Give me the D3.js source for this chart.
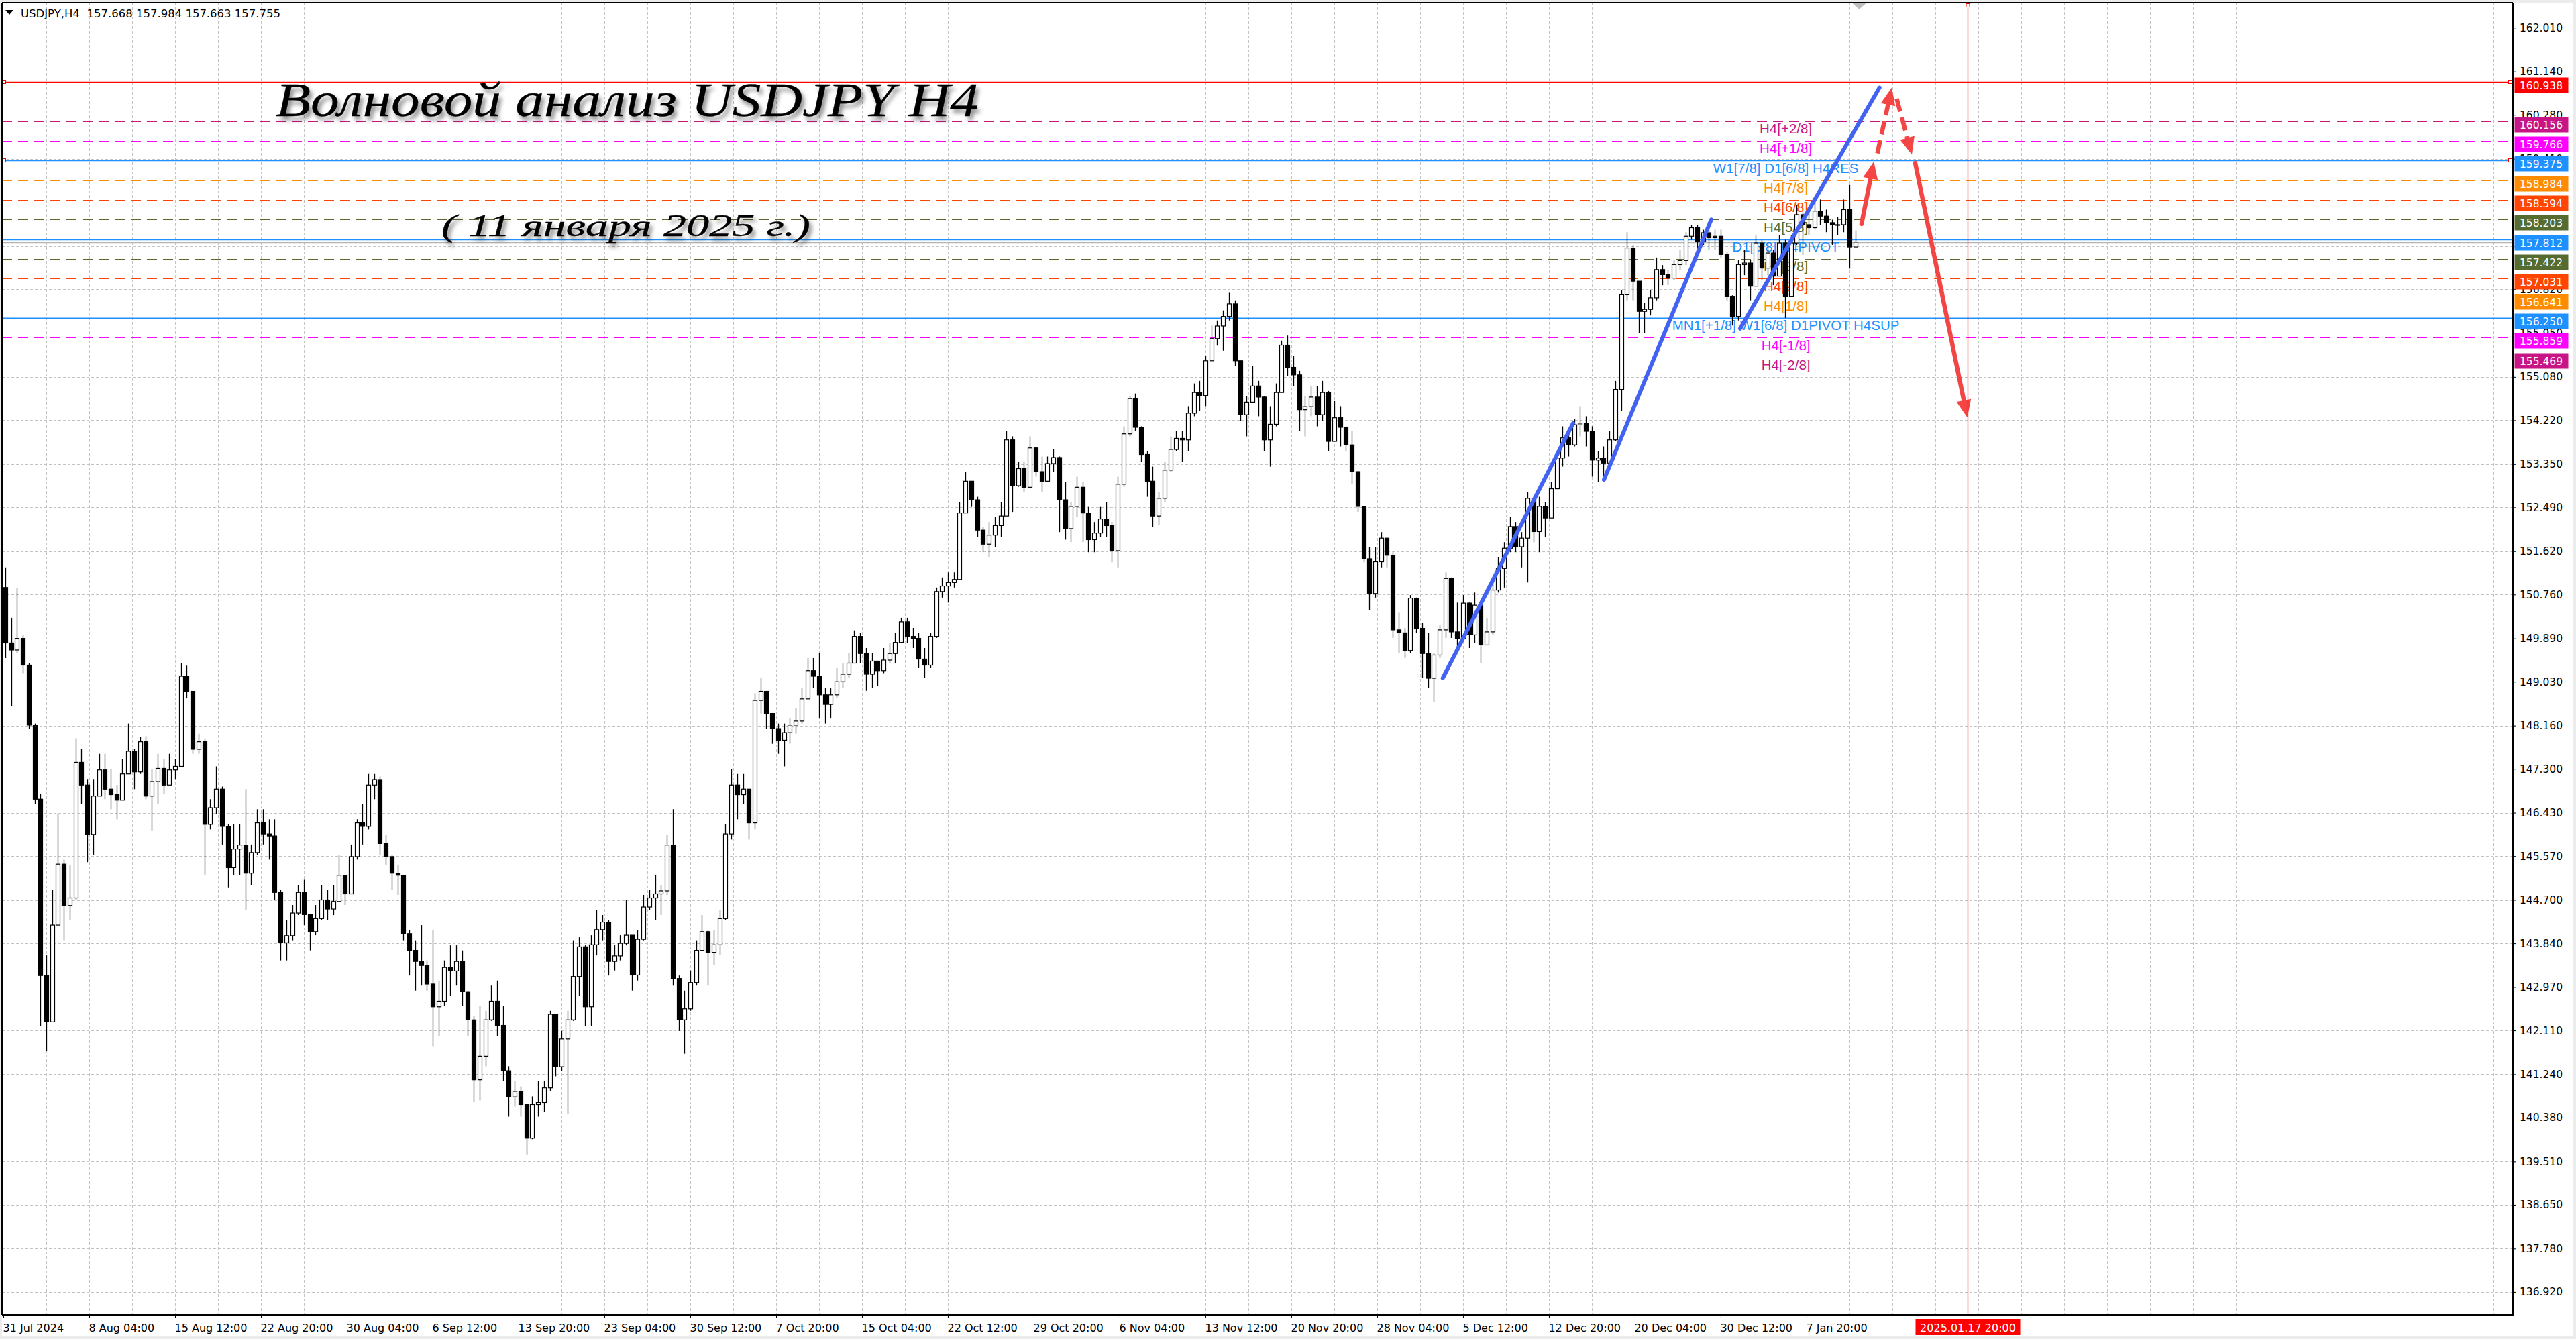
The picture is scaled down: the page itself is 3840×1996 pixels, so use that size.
<!DOCTYPE html>
<html><head><meta charset="utf-8">
<script src="https://cdn.jsdelivr.net/npm/d3@7"></script>
<style>html,body{margin:0;padding:0;background:#ececec;}svg{display:block;}</style>
</head><body><svg id="c" width="3840" height="1996"></svg>
<script>
// ---------- DATA (3 H4 bars per candle) ----------
const barsPerCandle = 3;
const firstOpen = 150.90;
const closes = [
149.80,149.66,149.89,149.36,148.17,146.70,143.20,142.28,144.20,145.41,
144.59,144.74,147.43,146.98,146.00,146.76,147.28,146.90,146.79,146.68,
147.20,147.65,147.24,147.84,146.76,147.05,147.31,146.98,147.28,147.35,
149.14,148.84,147.69,147.84,146.20,146.53,146.90,146.16,145.34,145.71,
145.79,145.23,145.64,146.23,146.01,145.97,144.85,143.85,143.99,144.44,
144.85,144.41,144.07,144.33,144.70,144.52,144.67,145.19,144.82,145.56,
146.23,146.16,146.98,147.09,145.82,145.56,145.23,145.19,144.03,143.70,
143.48,143.40,143.03,142.58,142.69,143.36,143.29,143.48,142.88,142.32,
141.13,141.60,142.32,142.69,142.21,141.31,140.79,140.90,140.64,139.97,
140.64,140.68,140.97,142.43,141.39,141.94,142.32,143.18,143.77,142.58,
143.81,144.11,144.26,143.48,143.59,143.84,144.00,143.21,143.92,144.56,
144.74,144.82,144.88,145.79,143.14,142.32,142.54,143.06,143.70,144.07,
143.66,143.81,144.33,146.01,146.98,146.79,146.90,146.23,148.66,148.84,
148.40,148.10,147.87,148.02,148.17,148.25,148.69,149.25,149.14,148.77,
148.58,148.77,149.03,149.18,149.40,149.93,149.59,149.18,149.44,149.25,
149.46,149.59,149.81,150.22,149.93,149.89,149.48,149.36,149.93,150.82,
150.93,151.00,151.06,152.38,153.01,152.64,152.04,151.76,151.94,152.13,
152.32,153.83,152.92,153.26,152.89,153.67,153.20,153.01,153.36,153.48,
152.64,152.07,152.51,152.89,152.38,151.85,151.98,152.26,152.13,151.63,
152.95,153.95,154.65,154.08,153.54,153.01,152.32,152.67,153.23,153.64,
153.86,153.83,154.36,154.77,154.71,155.40,155.84,156.09,156.28,156.53,
155.40,154.33,154.58,154.90,154.68,153.83,154.14,154.77,155.71,155.27,
155.12,154.43,154.49,154.68,154.33,154.77,153.80,154.27,154.08,153.73,
153.20,152.51,151.47,150.78,151.41,151.88,151.54,150.06,150.00,149.65,
150.69,150.09,149.59,149.10,149.56,150.06,151.08,150.02,149.89,150.59,
149.96,150.55,149.76,150.02,150.85,151.28,151.68,152.11,151.71,151.88,
152.67,152.01,152.51,152.28,152.86,153.47,153.87,153.73,154.13,154.16,
154.00,153.43,153.47,153.37,153.83,154.83,156.71,157.64,156.98,156.38,
156.42,156.65,157.21,157.11,157.04,157.31,157.39,157.87,158.04,157.77,
157.94,157.84,157.87,157.51,156.68,156.28,157.31,157.34,156.88,157.74,
157.24,157.54,157.08,157.74,156.68,157.74,158.30,158.10,158.04,158.37,
158.27,158.14,158.10,158.10,158.40,157.66,157.755];
const highs = [
151.30,150.30,150.90,149.95,149.40,148.20,146.80,143.60,144.90,146.40,
145.50,145.40,147.91,147.70,147.10,147.10,147.60,147.60,147.30,146.98,
147.50,148.20,147.70,147.93,147.95,147.30,147.60,147.50,147.60,147.50,
149.40,149.35,148.70,148.00,147.90,146.70,147.35,146.95,146.20,146.20,
146.20,146.90,145.80,146.50,146.50,146.30,146.30,144.90,144.30,144.60,
145.00,145.10,144.40,144.60,145.00,144.90,145.00,145.60,145.10,145.80,
146.30,146.60,147.20,147.20,147.15,146.00,145.60,145.40,145.20,144.10,
143.90,144.20,143.50,144.10,143.10,143.50,143.80,143.80,143.70,142.90,
142.40,142.60,142.50,143.00,143.10,142.60,141.40,141.10,141.00,140.60,
140.80,141.10,141.10,142.50,142.40,142.10,142.50,143.90,143.96,143.80,
144.00,144.50,144.40,144.30,143.80,144.00,144.70,144.00,144.10,144.80,
144.90,145.20,145.00,146.00,146.50,143.20,142.90,143.30,143.90,144.40,
144.10,144.10,144.50,146.20,147.30,147.20,147.20,146.90,148.80,149.10,
148.70,148.30,148.20,148.20,148.30,148.50,148.90,149.50,149.50,149.60,
148.90,148.90,149.30,149.40,149.60,150.05,150.00,149.70,149.60,149.40,
149.70,149.80,150.00,150.30,150.30,150.10,150.00,149.70,150.00,150.90,
151.10,151.20,151.20,152.60,153.20,153.00,152.70,152.10,152.20,152.30,
152.60,154.00,153.90,153.40,153.40,153.90,153.70,153.50,153.50,153.65,
153.50,153.00,152.60,153.10,153.00,152.50,152.20,152.50,152.60,152.20,
153.10,154.10,154.70,154.75,154.10,153.60,153.30,152.80,153.40,153.90,
154.00,154.00,154.50,154.95,155.00,155.50,156.10,156.20,156.40,156.75,
156.60,155.40,154.70,155.30,155.00,154.70,154.50,154.95,155.80,155.90,
155.50,155.20,154.70,154.90,154.90,155.00,154.80,154.60,154.50,154.10,
154.00,153.20,152.50,151.70,151.70,152.00,151.80,151.60,150.40,150.10,
150.75,150.70,150.20,150.00,149.60,150.15,151.20,151.10,150.60,150.75,
150.60,150.80,150.60,150.30,151.00,151.50,151.80,152.30,152.20,152.00,
152.80,152.70,152.70,152.60,153.00,153.60,154.10,154.00,154.25,154.50,
154.30,154.10,153.60,153.70,154.00,155.00,156.80,157.95,157.70,156.85,
156.55,156.80,157.45,157.30,157.20,157.40,157.60,157.95,158.10,158.10,
158.00,158.00,158.00,158.00,157.55,156.70,157.40,157.60,157.40,157.90,
157.80,157.75,157.60,157.90,157.80,157.90,158.50,158.35,158.40,158.55,
158.60,158.40,158.20,158.25,158.60,158.89,157.984];
const lows = [
149.50,148.55,149.60,149.20,148.10,146.60,142.20,141.70,142.30,144.70,
143.90,144.30,144.70,146.60,145.45,145.60,146.80,146.70,146.50,146.30,
146.70,147.20,146.90,147.20,146.70,146.08,146.60,146.80,147.00,147.10,
147.40,148.70,147.60,147.60,145.20,146.10,146.40,145.80,144.95,145.20,
145.20,144.50,145.00,145.60,145.80,145.50,144.70,143.50,143.50,143.90,
144.40,144.20,143.70,144.00,144.30,144.30,144.40,144.70,144.60,144.90,
145.50,145.80,146.10,146.70,145.60,145.40,144.90,144.80,143.90,143.20,
142.90,143.00,142.90,141.80,142.00,142.60,142.80,143.00,142.60,142.00,
140.70,140.72,141.40,142.30,142.00,141.10,140.40,140.60,140.40,139.65,
139.95,140.40,140.50,140.90,141.20,141.30,140.45,142.30,142.80,142.20,
142.20,143.60,143.90,143.20,143.30,143.50,143.80,142.90,143.10,143.90,
144.50,144.30,144.40,144.80,143.00,142.10,141.65,142.50,143.00,143.70,
143.00,143.40,143.60,144.30,145.90,146.30,146.60,145.90,146.10,148.40,
148.10,147.80,147.60,147.35,147.80,148.00,148.20,148.70,148.90,148.30,
148.20,148.30,148.70,148.90,149.10,149.40,149.40,148.85,148.90,148.95,
149.20,149.40,149.40,149.80,149.80,149.70,149.30,149.10,149.30,149.90,
150.70,150.60,150.90,151.10,152.40,152.50,151.90,151.60,151.50,151.70,
151.90,152.70,152.40,152.90,152.80,153.30,153.10,152.80,153.00,153.20,
152.00,151.85,151.80,152.30,151.80,151.60,151.60,151.90,151.90,151.40,
151.30,152.90,153.90,154.00,153.40,152.70,152.10,152.15,152.60,153.20,
153.60,153.40,153.60,154.30,154.40,154.50,155.40,155.70,155.60,156.20,
155.30,154.20,153.90,154.60,154.30,153.60,153.30,154.10,154.80,155.10,
154.90,154.00,153.90,154.30,154.10,154.20,153.60,153.90,153.70,153.60,
152.95,152.40,151.40,150.45,150.70,151.30,151.30,149.90,149.60,149.50,
149.60,150.00,149.10,148.90,148.63,149.50,149.90,149.90,149.60,149.90,
149.70,149.80,149.40,149.80,149.95,150.80,150.90,151.60,151.60,151.30,
151.00,151.80,151.60,151.90,152.30,152.90,153.30,153.50,153.70,153.90,
153.70,153.10,153.00,153.10,153.50,153.80,154.40,156.60,156.60,155.95,
155.95,156.30,156.60,156.90,156.90,157.00,157.20,157.30,157.80,157.60,
157.70,157.60,157.60,157.45,156.60,156.10,156.20,157.10,156.60,157.10,
157.00,157.10,156.90,157.30,156.25,156.90,157.70,157.50,157.90,158.00,
158.10,157.95,157.70,157.90,157.95,157.23,157.663];

const yTickValues = [162.010,161.140,160.280,159.410,158.540,157.680,156.820,155.950,155.080,154.220,153.350,152.490,151.620,150.760,149.890,149.030,148.160,147.300,146.430,145.570,144.700,143.840,142.970,142.110,141.240,140.380,139.510,138.650,137.780,136.920];
const xTickBars = [0,44,88,132,176,220,264,308,352,396,440,484,528,572,616,660,704,748,792,836,880,924];
const xTickLabels = ["31 Jul 2024","8 Aug 04:00","15 Aug 12:00","22 Aug 20:00","30 Aug 04:00","6 Sep 12:00","13 Sep 20:00","23 Sep 04:00","30 Sep 12:00","7 Oct 20:00","15 Oct 04:00","22 Oct 12:00","29 Oct 20:00","6 Nov 04:00","13 Nov 12:00","20 Nov 20:00","28 Nov 04:00","5 Dec 12:00","12 Dec 20:00","20 Dec 04:00","30 Dec 12:00","7 Jan 20:00"];
const gridBarStep = 22;

const levels = [160.938,160.156,159.766,159.375,158.984,158.594,158.203,157.812,157.422,157.031,156.641,156.250,155.859,155.469];
const levelColors = ["#FF0000","#C71585","#FF00FF","#1E90FF","#FF8C00","#FF4500","#556B2F","#1E90FF","#556B2F","#FF4500","#FF8C00","#1E90FF","#FF00FF","#C71585"];
const levelDashed = [false,true,true,false,true,true,true,false,true,true,true,false,true,true];
const levelWidths = [1.3,1.2,1.2,1.3,1.2,1.2,1.2,1.3,1.2,1.2,1.2,2.2,1.2,1.2];
const levelTexts = ["","H4[+2/8]","H4[+1/8]","W1[7/8] D1[6/8] H4RES","H4[7/8]","H4[6/8]","H4[5/8]","D1[5/8] H4PIVOT","H4[3/8]","H4[2/8]","H4[1/8]","MN1[+1/8] W1[6/8] D1PIVOT H4SUP","H4[-1/8]","H4[-2/8]"];
const levelTextBar = 913.4;
const markedLevels = [160.938,159.375];
const bidPrice = 157.755;
const headerText = "USDJPY,H4  157.668 157.984 157.663 157.755";
const titleText = "Волновой анализ USDJPY H4";
const subtitleText = "( 11 января 2025 г.)";

// blue trend lines: [bar1, price1, bar2, price2]
const trendLines = [[737.6,149.103,804.4,154.161],[820.2,153.04,875.2,158.202],[890.0,156.04,961.4,160.821]];
// red forecast arrows
const arrows = [
  {b1:952.2,p1:158.115,b2:958.5,p2:159.355,dashed:false},
  {b1:960.3,p1:159.517,b2:967.7,p2:160.821,dashed:true},
  {b1:970.2,p1:160.603,b2:978.0,p2:159.490,dashed:true},
  {b1:979.7,p1:159.327,b2:1006.4,p2:154.275,dashed:false}
];
const futureBar = 1006.5;
const futureLabel = "2025.01.17 20:00";
const shiftBar = 951;

// ---------- DRAWING ----------
const W = 3840, H = 1996;
const P = {l:3, r:3746, t:4, b:1960};
const x = d3.scaleLinear().domain([0,1286]).range([5,3746]);
const y = d3.scaleLinear().domain([136.92,162.01]).range([1925.9,41.3]);
const px = v => Math.round(v) + 0.5;
const AX_FONT = "'DejaVu Sans', Verdana, sans-serif";

const svg = d3.select('#c');
const defs = svg.append('defs');
defs.append('clipPath').attr('id','clip').append('rect')
  .attr('x',P.l).attr('y',P.t).attr('width',P.r-P.l).attr('height',P.b-P.t);
const f = defs.append('filter').attr('id','shadow').attr('x','-5%').attr('y','-20%').attr('width','115%').attr('height','160%');
f.append('feDropShadow').attr('dx',4).attr('dy',6).attr('stdDeviation',3).attr('flood-color','#000').attr('flood-opacity',0.45);

svg.append('rect').attr('width',W).attr('height',H).attr('fill','#ececec');
svg.append('rect').attr('x',3).attr('y',4).attr('width',3833).attr('height',1988).attr('fill','#ffffff');

const plot = svg.append('g').attr('clip-path','url(#clip)');

// grid
const grid = plot.append('g').attr('stroke','#c4c4c4').attr('stroke-width',1).attr('stroke-dasharray','4,3').attr('shape-rendering','crispEdges');
grid.selectAll('line.h').data(yTickValues).join('line').attr('class','h')
  .attr('x1',P.l).attr('x2',P.r).attr('y1',d=>px(y(d))).attr('y2',d=>px(y(d)));
grid.selectAll('line.v').data(d3.range(gridBarStep, 1287, gridBarStep)).join('line').attr('class','v')
  .attr('y1',P.t).attr('y2',P.b).attr('x1',d=>px(x(d))).attr('x2',d=>px(x(d)));

// bid line
plot.append('line').attr('x1',P.l).attr('x2',P.r).attr('y1',px(y(bidPrice))).attr('y2',px(y(bidPrice)))
  .attr('stroke','#b4b4b4').attr('stroke-width',1.3);

// level lines
const lv = levels.map((v,i)=>({v, c:levelColors[i], d:levelDashed[i], w:levelWidths[i], t:levelTexts[i]}));
plot.selectAll('line.lvl').data(lv).join('line').attr('class','lvl')
  .attr('x1',P.l).attr('x2',P.r).attr('y1',d=>px(y(d.v))).attr('y2',d=>px(y(d.v)))
  .attr('stroke',d=>d.c).attr('stroke-width',d=>d.w).attr('stroke-dasharray',d=>d.d?'15,9':null);

// level texts
plot.selectAll('text.lvl').data(lv.filter(d=>d.t)).join('text').attr('class','lvl')
  .attr('x',x(levelTextBar)).attr('y',d=>y(d.v)+18.5).attr('text-anchor','middle')
  .attr('fill',d=>d.c).attr('font-family',"'Liberation Sans', Arial, sans-serif").attr('font-size',20.5)
  .text(d=>d.t);

// level end markers
markedLevels.forEach(v=>{
  [P.l+3, P.r-4].forEach(cx=>{
    plot.append('rect').attr('x',cx-2.5).attr('y',Math.round(y(v))-2.5).attr('width',5).attr('height',5)
      .attr('fill','#fff').attr('stroke','#FF0000').attr('stroke-width',1);
  });
});

// candles
const candles = closes.map((c,k)=>({k, o: k ? closes[k-1] : firstOpen, c, h: highs[k], l: lows[k]}));
const cg = plot.append('g');
cg.selectAll('line.w').data(candles).join('line').attr('class','w')
  .attr('x1',d=>px(x(d.k*barsPerCandle+1))).attr('x2',d=>px(x(d.k*barsPerCandle+1)))
  .attr('y1',d=>y(Math.max(d.h,d.o,d.c))).attr('y2',d=>y(Math.min(d.l,d.o,d.c)))
  .attr('stroke','#000').attr('stroke-width',1.3);
cg.selectAll('rect.b').data(candles).join('rect').attr('class','b')
  .attr('x',d=>Math.round(x(d.k*barsPerCandle+1))-2.5).attr('width',6)
  .attr('y',d=>y(Math.max(d.o,d.c))).attr('height',d=>Math.max(1,Math.abs(y(d.o)-y(d.c))))
  .attr('fill',d=>d.c>=d.o?'#fff':'#000').attr('stroke','#000').attr('stroke-width',1.2);

// trend lines
plot.selectAll('line.tr').data(trendLines).join('line').attr('class','tr')
  .attr('x1',d=>x(d[0])).attr('y1',d=>y(d[1])).attr('x2',d=>x(d[2])).attr('y2',d=>y(d[3]))
  .attr('stroke','#4262F2').attr('stroke-width',6).attr('stroke-linecap','round');

// arrows
const RED = '#F44545';
arrows.forEach(a=>{
  const x1=x(a.b1), y1=y(a.p1), x2=x(a.b2), y2=y(a.p2);
  const dx=x2-x1, dy=y2-y1, L=Math.hypot(dx,dy), ux=dx/L, uy=dy/L;
  const len=26, half=11;
  const bx=x2-ux*len, by=y2-uy*len;
  plot.append('line').attr('x1',x1).attr('y1',y1).attr('x2',bx+ux*4).attr('y2',by+uy*4)
    .attr('stroke',RED).attr('stroke-width',6.5).attr('stroke-linecap',a.dashed?'butt':'round')
    .attr('stroke-dasharray',a.dashed?'20,9':null);
  plot.append('path').attr('d',`M${x2},${y2}L${bx-uy*half},${by+ux*half}L${bx+uy*half},${by-ux*half}Z`)
    .attr('fill',RED);
});

// future vertical line
const fx = px(x(futureBar));
svg.append('line').attr('x1',fx).attr('x2',fx).attr('y1',P.t).attr('y2',P.b).attr('stroke','#FF0000').attr('stroke-width',1.3);
svg.append('rect').attr('x',fx-2.5).attr('y',5.5).attr('width',5).attr('height',5).attr('fill','#fff').attr('stroke','#FF0000');

// shift marker
const sx = x(shiftBar);
svg.append('path').attr('d',`M${sx-10},5L${sx+10},5L${sx},14Z`).attr('fill','#bdbdbd');

// title texts
svg.append('text').attr('x',411).attr('y',173).attr('font-family',"'Liberation Serif','DejaVu Serif',serif")
  .attr('font-style','italic').attr('font-size',72).attr('fill','#000').attr('stroke','#000').attr('stroke-width',0.3)
  .attr('textLength',1048).attr('lengthAdjust','spacingAndGlyphs').attr('filter','url(#shadow)').text(titleText);
svg.append('text').attr('x',658).attr('y',352).attr('font-family',"'Liberation Serif','DejaVu Serif',serif")
  .attr('font-style','italic').attr('font-size',47).attr('fill','#000').attr('stroke','#000').attr('stroke-width',0.3)
  .attr('textLength',550).attr('lengthAdjust','spacingAndGlyphs').attr('filter','url(#shadow)').text(subtitleText);

// header
svg.append('path').attr('d','M8,15L20,15L14,22Z').attr('fill','#000');
svg.append('text').attr('x',31).attr('y',26).attr('font-family',AX_FONT).attr('font-size',16.5).attr('fill','#000')
  .attr('xml:space','preserve').style('white-space','pre').text(headerText);

// frame
const frame = svg.append('g').attr('stroke','#000').attr('stroke-width',1.5).attr('shape-rendering','crispEdges');
frame.append('line').attr('x1',P.l).attr('x2',P.l).attr('y1',P.t).attr('y2',P.b);
frame.append('line').attr('x1',P.l).attr('x2',P.r).attr('y1',P.t).attr('y2',P.t);

// y axis
const yAxis = d3.axisRight(y).tickValues(yTickValues).tickFormat(d3.format('.3f')).tickSize(4).tickSizeOuter(0).tickPadding(6);
const gy = svg.append('g').attr('transform',`translate(${P.r},0)`).call(yAxis);
gy.select('.domain').remove();
gy.selectAll('text').attr('font-family',AX_FONT).attr('font-size',15.5).attr('fill','#000');
gy.selectAll('line').attr('stroke','#000');

// x axis
const xAxis = d3.axisBottom(x).tickValues(xTickBars).tickFormat((d,i)=>xTickLabels[i]).tickSize(4).tickSizeOuter(0).tickPadding(10);
const gx = svg.append('g').attr('transform',`translate(0,${P.b})`).call(xAxis);
gx.select('.domain').remove();
gx.selectAll('text').attr('font-family',AX_FONT).attr('font-size',16).attr('fill','#000').attr('text-anchor','start').attr('x',-1);
gx.selectAll('line').attr('stroke','#000');

frame.append('line').attr('x1',P.r).attr('x2',P.r).attr('y1',P.t).attr('y2',P.b+1);
frame.append('line').attr('x1',P.l).attr('x2',P.r).attr('y1',P.b).attr('y2',P.b);

// level price boxes on the axis
const boxes = svg.append('g');
lv.forEach(d=>{
  const yy = Math.round(y(d.v));
  boxes.append('rect').attr('x',P.r+2.5).attr('y',yy-6.5).attr('width',80).attr('height',23).attr('fill',d.c);
  boxes.append('text').attr('x',P.r+10).attr('y',yy+10.5).attr('font-family',AX_FONT).attr('font-size',15.5)
    .attr('fill','#fff').text(d3.format('.3f')(d.v));
});

// future time label
svg.append('rect').attr('x',fx-78).attr('y',1966).attr('width',156).attr('height',24).attr('fill','#FF0000');
svg.append('text').attr('x',fx).attr('y',1984.5).attr('text-anchor','middle').attr('font-family',AX_FONT)
  .attr('font-size',16).attr('fill','#fff').text(futureLabel);
</script></body></html>
